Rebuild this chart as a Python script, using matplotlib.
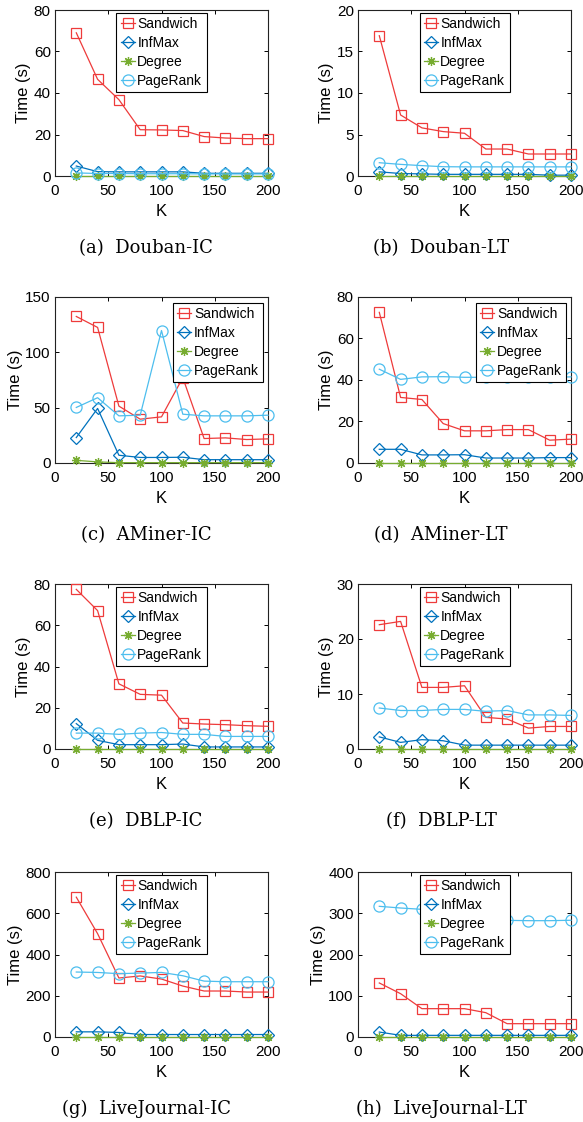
import matplotlib
matplotlib.use("Agg")
import matplotlib.pyplot as plt

# ---------------- data ----------------
K = [20, 40, 60, 80, 100, 120, 140, 160, 180, 200]
methods = ["Sandwich", "InfMax", "Degree", "PageRank"]

# (a) Douban-IC
sandwich_a = [69.0, 46.6, 36.8, 22.3, 22.2, 21.9, 19.0, 18.3, 18.0, 18.0]
infmax_a = [4.8, 2.1, 2.0, 2.0, 2.0, 2.0, 1.3, 1.3, 1.3, 1.3]
degree_a = [0.1, 0.1, 0.1, 0.1, 0.1, 0.1, 0.1, 0.1, 0.1, 0.1]
pagerank_a = [1.5, 1.2, 1.2, 1.1, 1.1, 1.1, 1.0, 1.0, 1.0, 1.0]

# (b) Douban-LT
sandwich_b = [16.9, 7.35, 5.8, 5.35, 5.15, 3.25, 3.25, 2.65, 2.65, 2.65]
infmax_b = [0.5, 0.3, 0.25, 0.2, 0.2, 0.2, 0.2, 0.2, 0.1, 0.1]
degree_b = [0.02, 0.02, 0.02, 0.02, 0.02, 0.02, 0.02, 0.02, 0.02, 0.02]
pagerank_b = [1.6, 1.4, 1.25, 1.12, 1.1, 1.1, 1.1, 1.1, 1.1, 1.1]

# (c) AMiner-IC
sandwich_c = [132.4, 122.5, 51.4, 39.6, 41.7, 77.1, 22.1, 22.7, 21.2, 21.8]
infmax_c = [23.0, 49.3, 7.0, 5.0, 5.0, 5.2, 3.0, 3.0, 3.0, 3.0]
degree_c = [2.4, 1.0, 0.3, 0.3, 0.3, 0.3, 0.3, 0.3, 0.3, 0.3]
pagerank_c = [50.2, 59.0, 42.6, 43.2, 119.7, 44.1, 42.6, 42.6, 42.6, 43.2]

# (d) AMiner-LT
sandwich_d = [72.6, 31.6, 30.6, 19.0, 15.5, 15.5, 16.1, 16.1, 11.0, 11.5]
infmax_d = [6.6, 6.6, 3.9, 3.9, 4.0, 2.4, 2.4, 2.4, 2.6, 2.6]
degree_d = [0.2, 0.2, 0.2, 0.2, 0.2, 0.2, 0.2, 0.2, 0.2, 0.2]
pagerank_d = [45.2, 40.3, 41.5, 41.6, 41.3, 41.3, 41.3, 41.3, 41.3, 41.5]

# (e) DBLP-IC
sandwich_e = [77.4, 67.1, 31.6, 26.5, 26.1, 12.6, 12.1, 11.8, 11.3, 11.0]
infmax_e = [12.3, 4.2, 2.1, 2.1, 2.1, 2.4, 1.0, 1.0, 1.0, 1.0]
degree_e = [0.2, 0.2, 0.2, 0.2, 0.2, 0.2, 0.2, 0.2, 0.2, 0.2]
pagerank_e = [7.7, 7.7, 7.1, 7.7, 8.0, 7.1, 7.1, 6.1, 6.1, 6.1]

# (f) DBLP-LT
sandwich_f = [22.6, 23.2, 11.2, 11.2, 11.5, 5.75, 5.45, 3.8, 4.1, 4.1]
infmax_f = [2.2, 1.2, 1.7, 1.5, 0.7, 0.7, 0.7, 0.7, 0.7, 0.7]
degree_f = [0.05, 0.05, 0.05, 0.05, 0.05, 0.05, 0.05, 0.05, 0.05, 0.05]
pagerank_f = [7.45, 7.0, 7.0, 7.2, 7.2, 6.85, 7.0, 6.2, 6.2, 6.1]

# (g) LiveJournal-IC
sandwich_g = [678, 501, 286, 296, 281, 247, 223, 223, 218, 218]
infmax_g = [25, 25, 22, 12, 12, 12, 12, 12, 12, 12]
degree_g = [2, 2, 2, 2, 2, 2, 2, 2, 2, 2]
pagerank_g = [315, 313, 307, 310, 313, 297, 271, 268, 268, 268]

# (h) LiveJournal-LT
sandwich_h = [131, 105, 68.7, 68.7, 68.7, 59, 32.3, 32.3, 32.3, 32.3]
infmax_h = [12, 4, 4, 4, 4, 4, 4, 4, 4, 4]
degree_h = [1, 1, 1, 1, 1, 1, 1, 1, 1, 1]
pagerank_h = [316.8, 312.7, 309.5, 303, 297, 290, 282.8, 282, 282, 283]

captions = ["(a)  Douban-IC", "(b)  Douban-LT", "(c)  AMiner-IC", "(d)  AMiner-LT",
            "(e)  DBLP-IC", "(f)  DBLP-LT", "(g)  LiveJournal-IC", "(h)  LiveJournal-LT"]
y_limits = [80, 20, 150, 80, 80, 30, 800, 400]
y_steps = [20, 5, 50, 20, 20, 10, 200, 100]

panels = [
    (sandwich_a, infmax_a, degree_a, pagerank_a),
    (sandwich_b, infmax_b, degree_b, pagerank_b),
    (sandwich_c, infmax_c, degree_c, pagerank_c),
    (sandwich_d, infmax_d, degree_d, pagerank_d),
    (sandwich_e, infmax_e, degree_e, pagerank_e),
    (sandwich_f, infmax_f, degree_f, pagerank_f),
    (sandwich_g, infmax_g, degree_g, pagerank_g),
    (sandwich_h, infmax_h, degree_h, pagerank_h),
]

# ---------------- style ----------------
plt.rcParams["font.family"] = ["Liberation Sans", "DejaVu Sans"]
colors = ["#EE3B3B", "#0072BD", "#77AC30", "#4DBEEE"]
markers = ["s", "D", (8, 2, 0), "o"]
msizes = [6.5, 6.5, 6.5, 8.0]

W, H = 583, 1122
fig = plt.figure(figsize=(W / 100, H / 100), dpi=100)

cols = [(55, 268), (358, 571)]
rows = [(10, 176), (297, 463), (584, 749), (872, 1037)]
caption_x = [146, 441]

for i, data in enumerate(panels):
    r, c = divmod(i, 2)
    x0, x1 = cols[c]
    t, b = rows[r]
    ax = fig.add_axes([x0 / W, 1 - b / H, (x1 - x0) / W, (b - t) / H])
    for j, (vals, name) in enumerate(zip(data, methods)):
        ax.plot(K, vals, color=colors[j], marker=markers[j], ms=msizes[j],
                mfc="none", mec=colors[j], mew=0.9, lw=0.9, label=name,
                clip_on=False, zorder=3 + j)
    ax.set_xlim(0, 200)
    ax.set_ylim(0, y_limits[i])
    ax.set_xticks([0, 50, 100, 150, 200])
    ax.set_yticks(list(range(0, y_limits[i] + 1, y_steps[i])))
    ax.tick_params(direction="in", length=3, width=0.7, labelsize=11,
                   top=True, right=True, pad=3)
    ax.tick_params(axis="x", pad=6)
    for s in ax.spines.values():
        s.set_linewidth(0.8)
        s.set_color("#222222")
    ax.set_xlabel("K", fontsize=12, labelpad=4)
    ax.set_ylabel("Time (s)", fontsize=12, labelpad=2)
    if i in (2, 3):
        loc, anchor = "upper right", (1 - 5 / (x1 - x0), 1 - 6 / (b - t))
    else:
        loc, anchor = "upper center", (0.5, 1 - 3 / (b - t))
    leg = ax.legend(loc=loc, bbox_to_anchor=anchor, borderaxespad=0,
                    fontsize=10, handlelength=1.0, handletextpad=0.2,
                    borderpad=0.3, labelspacing=0.36, fancybox=False,
                    framealpha=1, edgecolor="black")
    leg.get_frame().set_linewidth(0.8)
    leg.set_zorder(20)
    fig.text(caption_x[c] / W, 1 - (b + 72) / H, captions[i],
             ha="center", va="center", fontsize=13,
             family=["DejaVu Serif"])

fig.savefig("out.png", dpi=100)
